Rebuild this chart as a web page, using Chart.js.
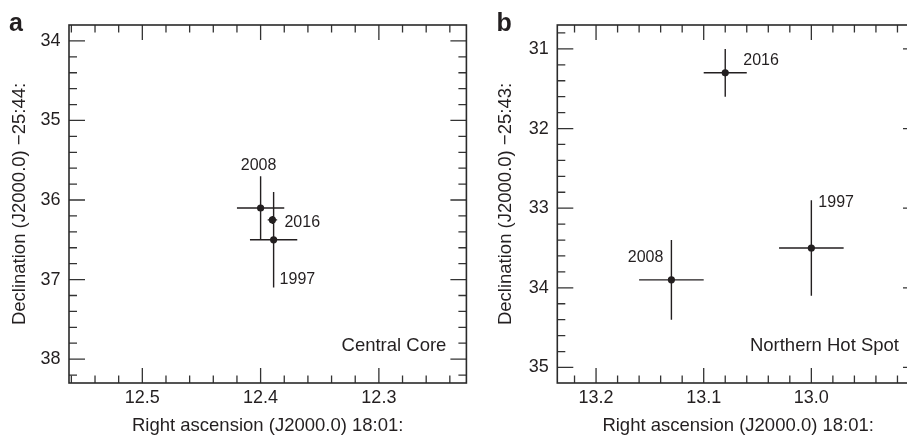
<!DOCTYPE html>
<html><head><meta charset="utf-8">
<script src="https://cdn.jsdelivr.net/npm/chart.js@4"></script>
<style>
html,body{margin:0;padding:0;background:#fff;overflow:hidden;width:907px;height:437px;}
#wrap{position:relative;width:907px;height:437px;overflow:hidden;}
canvas{position:absolute;top:0;}
#ca{left:0}
#cb{left:470px}
</style></head><body>
<div id="wrap"><canvas id="ca" width="470" height="437"></canvas><canvas id="cb" width="460" height="437"></canvas></div>
<script>
// ---- Panel a: Central Core ----
const coreYears  = ['1997', '2008', '2016'];
const coreRA     = [12.389, 12.400, 12.390];
const coreDec    = [36.50, 36.10, 36.25];
const coreRAErr  = [0.020, 0.020, 0.004];
const coreDecErr = [0.60, 0.40, 0.05];
const coreRARange  = [12.226, 12.562];
const coreDecRange = [33.8, 38.3];
const coreRATickLabels  = ['12.5', '12.4', '12.3'];
const coreDecTickLabels = ['34', '35', '36', '37', '38'];

// ---- Panel b: Northern Hot Spot ----
const hotYears  = ['1997', '2008', '2016'];
const hotRA     = [13.00, 13.13, 13.08];
const hotDec    = [33.5, 33.9, 31.3];
const hotRAErr  = [0.03, 0.03, 0.02];
const hotDecErr = [0.6, 0.5, 0.3];
const hotRARange  = [12.9, 13.236];
const hotDecRange = [30.7, 35.195];
const hotRATickLabels  = ['13.2', '13.1', '13.0'];
const hotDecTickLabels = ['31', '32', '33', '34', '35'];

const raMinorStep = 0.02, decMinorStep = 0.2;
const xTitle = 'Right ascension (J2000.0) 18:01:';

// ---- styles ----
const INK = '#231f20';
const FONT = "'Liberation Sans', Arial, Helvetica, sans-serif";
const coreLabelStyle = {
  '2008': {dx: -2, dy: -42, align: 'center'},
  '2016': {dx: 12, dy: 3, align: 'left'},
  '1997': {dx: 6, dy: 40, align: 'left'}
};
const hotLabelStyle = {
  '2016': {dx: 18, dy: -12, align: 'left'},
  '1997': {dx: 7, dy: -45, align: 'left'},
  '2008': {dx: -8, dy: -22, align: 'right'}
};

function near(v, target) { return Math.abs(v - target) < 1e-6; }
function stepTicks(step) {
  return function(scale) {
    const out = [];
    for (let k = Math.ceil(scale.min / step - 1e-9); k * step <= scale.max + 1e-9; k++) {
      out.push({value: +(k * step).toFixed(4)});
    }
    scale.ticks = out;
  };
}
function labelFor(labels) {
  return function(v) {
    for (const l of labels) if (near(v, parseFloat(l))) return l;
    return '';
  };
}

const panelPlugin = {
  id: 'panel',
  beforeDatasetsDraw(chart, args, o) {
    const ctx = chart.ctx, a = chart.chartArea;
    const xs = chart.scales.x, ys = chart.scales.y;
    ctx.save();
    // error bars
    ctx.strokeStyle = INK; ctx.lineWidth = 1.4;
    chart.data.datasets[0].data.forEach((p, i) => {
      const px = xs.getPixelForValue(p.x), py = ys.getPixelForValue(p.y);
      const x1 = xs.getPixelForValue(p.x - o.xErr[i]), x2 = xs.getPixelForValue(p.x + o.xErr[i]);
      const y1 = ys.getPixelForValue(p.y - o.yErr[i]), y2 = ys.getPixelForValue(p.y + o.yErr[i]);
      ctx.beginPath();
      ctx.moveTo(x1, py); ctx.lineTo(x2, py);
      ctx.moveTo(px, y1); ctx.lineTo(px, y2);
      ctx.stroke();
    });
    // inward tick marks
    ctx.strokeStyle = '#333'; ctx.lineWidth = 1.3;
    xs.ticks.forEach(t => {
      const len = t.label ? 15 : 7.5;
      const x = xs.getPixelForValue(t.value);
      if (x <= a.left + 1 || x >= a.right - 1) return;
      ctx.beginPath();
      ctx.moveTo(x, a.bottom); ctx.lineTo(x, a.bottom - len);
      ctx.moveTo(x, a.top); ctx.lineTo(x, a.top + len);
      ctx.stroke();
    });
    ys.ticks.forEach(t => {
      const len = t.label ? 16 : 8;
      const y = ys.getPixelForValue(t.value);
      if (y <= a.top + 1 || y >= a.bottom - 1) return;
      ctx.beginPath();
      ctx.moveTo(a.left, y); ctx.lineTo(a.left + len, y);
      ctx.moveTo(a.right, y); ctx.lineTo(a.right - len, y);
      ctx.stroke();
    });
    // frame
    ctx.lineWidth = 1.6; ctx.strokeStyle = '#2a2a2a';
    ctx.strokeRect(a.left, a.top, a.right - a.left, a.bottom - a.top);
    ctx.restore();
  },
  afterDraw(chart, args, o) {
    const ctx = chart.ctx, a = chart.chartArea;
    const xs = chart.scales.x, ys = chart.scales.y;
    ctx.save();
    ctx.fillStyle = INK;
    // year labels
    ctx.font = '16px ' + FONT;
    ctx.textBaseline = 'middle';
    chart.data.datasets[0].data.forEach((p, i) => {
      const s = o.labelStyle[o.years[i]];
      ctx.textAlign = s.align;
      ctx.fillText(o.years[i], xs.getPixelForValue(p.x) + s.dx, ys.getPixelForValue(p.y) + s.dy);
    });
    // region name
    ctx.font = '18.5px ' + FONT;
    ctx.textAlign = 'right';
    ctx.fillText(o.region, a.right - 20, a.bottom - 37);
    // panel letter
    ctx.font = 'bold 25px ' + FONT;
    ctx.textAlign = 'left';
    ctx.textBaseline = 'alphabetic';
    ctx.fillText(o.letter, o.letterX, 31);
    ctx.restore();
  }
};

function makeChart(id, cfg) {
  const pts = cfg.ra.map((r, i) => ({x: r, y: cfg.dec[i]}));
  return new Chart(document.getElementById(id), {
    type: 'scatter',
    data: {datasets: [{data: pts, pointRadius: 3.6, pointHoverRadius: 3.6,
      backgroundColor: INK, borderColor: INK, borderWidth: 0}]},
    options: {
      responsive: false, animation: false,
      layout: {padding: {left: 0, top: 25, right: cfg.padRight, bottom: 0}},
      plugins: {legend: {display: false}, tooltip: {enabled: false},
        panel: {xErr: cfg.raErr, yErr: cfg.decErr, years: cfg.years, labelStyle: cfg.labelStyle,
                region: cfg.region, letter: cfg.letter, letterX: cfg.letterX}},
      scales: {
        x: {type: 'linear', reverse: true, min: cfg.raRange[0], max: cfg.raRange[1],
          afterBuildTicks: stepTicks(raMinorStep),
          afterFit: s => { s.height = 54; },
          grid: {display: false, drawTicks: false}, border: {display: false},
          ticks: {autoSkip: false, maxRotation: 0, padding: 4.5, color: INK,
            font: {family: FONT, size: 18}, callback: labelFor(cfg.raLabels)},
          title: {display: true, text: xTitle, color: INK, padding: {top: 0, bottom: 0},
            font: {family: FONT, size: 18.5, lineHeight: 1.2}}},
        y: {type: 'linear', reverse: true, min: cfg.decRange[0], max: cfg.decRange[1],
          afterBuildTicks: stepTicks(decMinorStep),
          afterFit: s => { s.width = cfg.yWidth; },
          grid: {display: false, drawTicks: false}, border: {display: false},
          ticks: {autoSkip: false, padding: 8.5, color: INK,
            font: {family: FONT, size: 18}, callback: labelFor(cfg.decLabels)},
          title: {display: true, text: cfg.yTitle, color: INK, padding: {top: cfg.yTitlePad, bottom: 0},
            font: {family: FONT, size: 18.5, lineHeight: 1.2}}}
      }
    },
    plugins: [panelPlugin]
  });
}

makeChart('ca', {
  ra: coreRA, dec: coreDec, raErr: coreRAErr, decErr: coreDecErr, years: coreYears,
  labelStyle: coreLabelStyle, raRange: coreRARange, decRange: coreDecRange,
  raLabels: coreRATickLabels, decLabels: coreDecTickLabels,
  yTitle: 'Declination (J2000.0) \u221225:44:', region: 'Central Core', letter: 'a',
  letterX: 9, padRight: 2.7, yWidth: 69, yTitlePad: 9
});
makeChart('cb', {
  ra: hotRA, dec: hotDec, raErr: hotRAErr, decErr: hotDecErr, years: hotYears,
  labelStyle: hotLabelStyle, raRange: hotRARange, decRange: hotDecRange,
  raLabels: hotRATickLabels, decLabels: hotDecTickLabels,
  yTitle: 'Declination (J2000.0) \u221225:43:', region: 'Northern Hot Spot', letter: 'b',
  letterX: 26.6, padRight: 11, yWidth: 87.3, yTitlePad: 25.2
});
</script>
</body></html>
